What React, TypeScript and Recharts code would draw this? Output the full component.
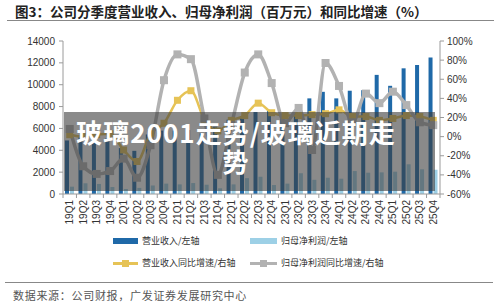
import React from 'react';
import { ComposedChart, Bar, Line, XAxis, YAxis } from 'recharts';

const quarters = [
  '19Q1', '19Q2', '19Q3', '19Q4', '20Q1', '20Q2', '20Q3', '20Q4',
  '21Q1', '21Q2', '21Q3', '21Q4', '22Q1', '22Q2', '22Q3', '22Q4',
  '23Q1', '23Q2', '23Q3', '23Q4', '24Q1', '24Q2', '24Q3', '24Q4',
  '25Q1', '25Q2', '25Q3', '25Q4',
];
// 营业收入（百万元）
const revenue = [
  4900, 5350, 5250, 5100, 4200, 3950, 5450, 5800,
  5800, 5850, 5550, 6150, 6800, 7100, 7500, 7650,
  7100, 7500, 8750, 9350, 8750, 9450, 9500, 10900,
  9900, 11500, 11800, 12500,
];
// 归母净利润（百万元）
const netProfit = [
  670, 980, 920, 640, 460, 560, 780, 950,
  880, 1000, 850, 520, 880, 1450, 1580, 820,
  950, 1900, 1300, 1490, 1400, 2100, 1950, 1980,
  2040, 2720, 2260, 2220,
];
// 营业收入同比增速（%）
const revenueYoY = [
  2, 0, 2, 3, -14, -26, 3, 14,
  38, 48, 18, 6, 17, 22, 35, 25,
  22, 22, 23, 24, 28, 21, 21, 17,
  19, 22, 21, 17,
];
// 归母净利润同比增速（%）
const profitYoY = [
  8, -31, -39, -36, -23, -43, -9, 59,
  86, 81, 19, -40, 12, 67, 86, 56,
  14, 30, -14, 77, 53, 15, 45, 35,
  47, 33, 15, 12,
];
const leftTicks = [0, 2000, 4000, 6000, 8000, 10000, 12000, 14000];
const rightTicks = [-60, -40, -20, 0, 20, 40, 60, 80, 100];

const data = quarters.map((q, i) => ({
  q,
  revenue: revenue[i],
  netProfit: netProfit[i],
  revenueYoY: revenueYoY[i],
  profitYoY: profitYoY[i],
}));

const DARK_BLUE = '#1f69a8';
const LIGHT_BLUE = '#9dd0e6';
const YELLOW = '#e6c356';
const GREY = '#b2b2b2';
const AXIS = '#9a9a9a';

const band = 377 / quarters.length;

const XTick = (props: any) => {
  const { x, y, payload, index } = props;
  const half = band / 2;
  return (
    <g>
      <line x1={x - half} y1={y - 4} x2={x - half} y2={y} stroke={AXIS} />
      {index === quarters.length - 1 && (
        <line x1={x + half} y1={y - 4} x2={x + half} y2={y} stroke={AXIS} />
      )}
      <text
        x={x}
        y={y + 2}
        transform={`rotate(-90, ${x}, ${y + 2})`}
        textAnchor="end"
        dominantBaseline="central"
        fontSize={10}
        fill="#333"
        fontFamily="Liberation Sans, Arial, sans-serif"
      >
        {payload.value}
      </text>
    </g>
  );
};

const squareDot = (color: string, size: number) => (props: any) => {
  const { cx, cy, index } = props;
  return (
    <rect
      key={`dot-${index}`}
      x={cx - size / 2}
      y={cy - size / 2}
      width={size}
      height={size}
      fill={color}
    />
  );
};

const legendText: React.CSSProperties = {
  position: 'absolute',
  fontSize: 9,
  color: '#333',
  fontFamily: '"Noto Sans CJK SC", sans-serif',
  lineHeight: '10px',
  whiteSpace: 'nowrap',
};

const bandText: React.CSSProperties = {
  position: 'absolute',
  left: 76,
  width: 320,
  textAlign: 'center',
  color: '#fff',
  fontWeight: 'bold',
  fontSize: 26,
  letterSpacing: 1,
  lineHeight: '26px',
  fontFamily: '"Noto Sans CJK SC", sans-serif',
  whiteSpace: 'nowrap',
};

const App = () => {
  return (
    <div
      style={{
        position: 'fixed',
        left: 0,
        top: 0,
        width: 500,
        height: 303,
        background: '#fff',
        overflow: 'hidden',
        fontFamily: '"Noto Sans CJK SC", sans-serif',
      }}
    >
      <div
        style={{
          position: 'absolute',
          left: 15,
          top: 3,
          fontSize: 13.5,
          fontWeight: 'bold',
          color: '#222',
          lineHeight: '17px',
          whiteSpace: 'nowrap',
        }}
      >
        图3：公司分季度营业收入、归母净利润（百万元）和同比增速（%）
      </div>
      <div style={{ position: 'absolute', left: 7, top: 20, width: 487, height: 1, background: '#888' }} />

      <div style={{ position: 'absolute', left: 0, top: 0 }}>
        <ComposedChart
          width={500}
          height={303}
          data={data}
          margin={{ top: 41, right: 0, left: 0, bottom: 69 }}
          barSize={4}
          barGap={1}
        >
          <XAxis
            dataKey="q"
            interval={0}
            height={40}
            tickLine={false}
            tickSize={0}
            tickMargin={4}
            stroke={AXIS}
            tick={<XTick />}
          />
          <YAxis
            yAxisId="left"
            orientation="left"
            width={63}
            domain={[0, 14000]}
            ticks={leftTicks}
            interval={0}
            tickSize={4}
            tickMargin={4}
            stroke={AXIS}
            tick={{ fontSize: 10, fill: '#333', fontFamily: 'Liberation Sans, Arial, sans-serif' }}
          />
          <YAxis
            yAxisId="right"
            orientation="right"
            width={60}
            domain={[-60, 100]}
            ticks={rightTicks}
            interval={0}
            tickSize={4}
            tickMargin={3}
            stroke={AXIS}
            tickFormatter={(v: number) => `${v}%`}
            tick={{ fontSize: 10, fill: '#333', fontFamily: 'Liberation Sans, Arial, sans-serif' }}
          />
          <Bar yAxisId="left" dataKey="revenue" fill={DARK_BLUE} isAnimationActive={false} />
          <Bar yAxisId="left" dataKey="netProfit" fill={LIGHT_BLUE} isAnimationActive={false} />
          <Line
            yAxisId="right"
            type="monotone"
            dataKey="revenueYoY"
            stroke={YELLOW}
            strokeWidth={2.5}
            dot={squareDot(YELLOW, 7)}
            activeDot={false}
            isAnimationActive={false}
          />
          <Line
            yAxisId="right"
            type="monotone"
            dataKey="profitYoY"
            stroke={GREY}
            strokeWidth={3.5}
            dot={squareDot(GREY, 8)}
            activeDot={false}
            isAnimationActive={false}
          />
        </ComposedChart>
      </div>

      {/* legend */}
      <div style={{ position: 'absolute', left: 113, top: 238, width: 25, height: 6, background: DARK_BLUE }} />
      <div style={{ ...legendText, left: 142, top: 236 }}>营业收入/左轴</div>
      <div style={{ position: 'absolute', left: 250, top: 238, width: 27, height: 6, background: LIGHT_BLUE }} />
      <div style={{ ...legendText, left: 281, top: 236 }}>归母净利润/左轴</div>
      <div style={{ position: 'absolute', left: 113, top: 262, width: 25, height: 3, background: YELLOW }} />
      <div style={{ position: 'absolute', left: 122, top: 260, width: 7, height: 7, background: YELLOW }} />
      <div style={{ ...legendText, left: 142, top: 258 }}>营业收入同比增速/右轴</div>
      <div style={{ position: 'absolute', left: 250, top: 262, width: 27, height: 3, background: GREY }} />
      <div style={{ position: 'absolute', left: 260, top: 260, width: 7, height: 7, background: GREY }} />
      <div style={{ ...legendText, left: 281, top: 258 }}>归母净利润同比增速/右轴</div>

      {/* overlay band */}
      <div
        style={{
          position: 'absolute',
          left: 64,
          top: 112,
          width: 371,
          height: 79,
          background: 'rgba(60,60,60,0.6)',
        }}
      />
      <div style={{ ...bandText, top: 119 }}>玻璃2001走势/玻璃近期走</div>
      <div style={{ ...bandText, top: 148 }}>势</div>

      {/* footer */}
      <div style={{ position: 'absolute', left: 5, top: 282, width: 488, height: 1, background: '#888' }} />
      <div
        style={{
          position: 'absolute',
          left: 13,
          top: 288,
          fontSize: 11,
          letterSpacing: 0.7,
          color: '#555',
          lineHeight: '14px',
          whiteSpace: 'nowrap',
        }}
      >
        数据来源：公司财报，广发证券发展研究中心
      </div>
    </div>
  );
};

export default App;
